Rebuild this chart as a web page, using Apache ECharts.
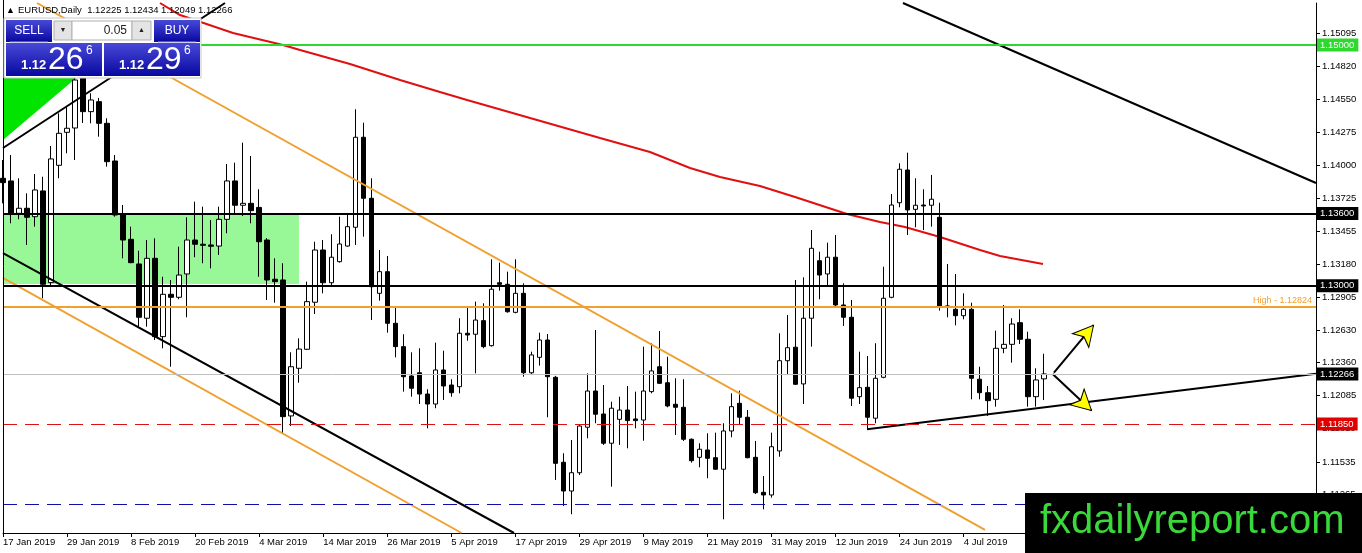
<!DOCTYPE html>
<html><head><meta charset="utf-8">
<script src="https://cdn.jsdelivr.net/npm/echarts@6/dist/echarts.min.js"></script>
<style>html,body{margin:0;padding:0;background:#fff;overflow:hidden}#c{width:1362px;height:553px}</style>
</head><body><div id="c"></div>
<script>
// ---- Data (EURUSD Daily) ----
const openP = [1.13892,1.13870,1.13601,1.13643,1.13573,1.13787,1.13025,1.14000,1.14274,1.14310,
1.14726,1.14446,1.14529,1.14349,1.14036,1.13595,1.13385,1.13180,1.12729,1.13227,
1.12576,1.12928,1.12903,1.13097,1.13379,1.13344,1.13338,1.13329,1.13551,1.13870,
1.13668,1.13684,1.13650,1.13379,1.13053,1.13047,1.11917,1.12313,1.12471,1.12862,
1.13296,1.13024,1.13199,1.13329,1.13485,1.14233,1.13726,1.12936,1.13116,1.12687,
1.12493,1.12249,1.12276,1.12099,1.12016,1.12299,1.12174,1.12160,1.12604,1.12596,
1.12709,1.12501,1.13024,1.13011,1.12778,1.12936,1.12276,1.12404,1.12548,1.12238,
1.11532,1.11293,1.11445,1.11823,1.12124,1.11933,1.11690,1.11889,1.11966,1.11892,
1.11883,1.12119,1.12326,1.12193,1.12014,1.11989,1.11723,1.11573,1.11634,1.11570,
1.11474,1.11792,1.12022,1.11906,1.11573,1.11282,1.11260,1.11626,1.12376,1.12488,
1.12183,1.12729,1.13207,1.13097,1.13236,1.12839,1.12737,1.12077,1.12155,1.11898,
1.12238,1.12903,1.13689,1.13961,1.13634,1.13670,1.13668,1.13568,1.12831,1.12803,
1.12750,1.12803,1.12222,1.12110,1.12055,1.12479,1.12512,1.12692,1.12554,1.12077,
1.12225];
const highP = [1.14044,1.14086,1.13892,1.13767,1.13928,1.13905,1.14161,1.14432,1.14487,1.14892,
1.15141,1.14599,1.14560,1.14391,1.14086,1.13670,1.13490,1.13290,1.13379,1.13393,
1.13074,1.13047,1.13324,1.13568,1.13698,1.13656,1.13546,1.13656,1.14011,1.14022,
1.14188,1.14077,1.13801,1.13395,1.13227,1.13186,1.12446,1.12562,1.13033,1.13365,
1.13379,1.13427,1.13573,1.13601,1.14466,1.14354,1.13892,1.13296,1.13246,1.12831,
1.12596,1.12446,1.12479,1.12139,1.12526,1.12459,1.12222,1.12729,1.12831,1.12867,
1.12853,1.13219,1.13191,1.13116,1.13219,1.13019,1.12451,1.12609,1.12598,1.12250,
1.11607,1.11717,1.11850,1.12271,1.12631,1.12174,1.12035,1.12077,1.12166,1.12119,
1.12493,1.12521,1.12623,1.12409,1.12230,1.12222,1.11730,1.11690,1.11773,1.11778,
1.11856,1.12105,1.12127,1.11966,1.11709,1.11418,1.11778,1.12604,1.12756,1.13047,
1.13069,1.13462,1.13282,1.13357,1.13421,1.13019,1.12881,1.12451,1.12415,1.12521,
1.13157,1.13762,1.14017,1.14105,1.13892,1.13801,1.13920,1.13689,1.13180,1.13097,
1.12936,1.12858,1.12326,1.12166,1.12626,1.12839,1.12729,1.12803,1.12617,1.12313,
1.12434];
const lowP = [1.13684,1.13518,1.13551,1.13338,1.13490,1.12895,1.13005,1.13892,1.14100,1.14044,
1.14352,1.14349,1.14238,1.13989,1.13573,1.13227,1.13186,1.12659,1.12659,1.12548,
1.12479,1.12326,1.12887,1.12737,1.13236,1.13186,1.13144,1.13255,1.13435,1.13601,
1.13579,1.13518,1.13074,1.12881,1.12858,1.11773,1.11833,1.12193,1.12465,1.12764,
1.12936,1.13005,1.13191,1.13324,1.13338,1.13407,1.12714,1.12875,1.12609,1.12404,
1.12119,1.12077,1.12016,1.11814,1.11981,1.12050,1.12077,1.12105,1.12542,1.12271,
1.12479,1.12493,1.12958,1.12775,1.12770,1.12243,1.12266,1.12335,1.11906,1.11385,
1.11169,1.11100,1.11426,1.11731,1.11856,1.11676,1.11329,1.11676,1.11648,1.11814,
1.11711,1.12105,1.12183,1.11989,1.11759,1.11709,1.11529,1.11490,1.11399,1.11468,
1.11058,1.11740,1.11850,1.11565,1.11268,1.11141,1.11238,1.11578,1.12257,1.12174,
1.12016,1.12493,1.12887,1.13005,1.12825,1.12665,1.12000,1.12016,1.11800,1.11856,
1.12230,1.12895,1.13651,1.13421,1.13485,1.13462,1.13490,1.12792,1.12737,1.12670,
1.12720,1.12055,1.12055,1.11917,1.11994,1.12438,1.12360,1.12515,1.11994,1.11994,
1.12049];
const closeP = [1.13856,1.13601,1.13643,1.13568,1.13795,1.13011,1.14053,1.14266,1.14308,1.14709,
1.14446,1.14543,1.14349,1.14030,1.13587,1.13379,1.13191,1.12737,1.13227,1.12576,
1.12928,1.12903,1.13088,1.13379,1.13344,1.13335,1.13327,1.13551,1.13870,1.13668,
1.13684,1.13623,1.13365,1.13047,1.13033,1.11911,1.12326,1.12473,1.12867,1.13296,
1.13024,1.13236,1.13346,1.13490,1.14233,1.13726,1.12991,1.13116,1.12687,1.12493,
1.12243,1.12147,1.12099,1.12016,1.12299,1.12166,1.12110,1.12604,1.12590,1.12714,
1.12493,1.12970,1.13011,1.12783,1.12936,1.12276,1.12424,1.12548,1.12243,1.11523,
1.11293,1.11445,1.11833,1.12124,1.11931,1.11690,1.11981,1.11966,1.11878,1.11878,
1.12124,1.12291,1.12188,1.12000,1.11989,1.11723,1.11545,1.11640,1.11565,1.11474,
1.11792,1.11994,1.11906,1.11570,1.11279,1.11260,1.11661,1.12376,1.12484,1.12180,
1.12729,1.13310,1.13088,1.13236,1.12839,1.12737,1.12064,1.12152,1.11906,1.12230,
1.12895,1.13670,1.13967,1.13629,1.13668,1.13662,1.13718,1.12825,1.12828,1.12750,
1.12803,1.12230,1.12110,1.12044,1.12479,1.12512,1.12681,1.12554,1.12077,1.12216,
1.12266];

// moving average (red) read as [bar index, price]
const maPoints = [[19.61,1.15349],[22.11,1.15249],[28.73,1.15100],[34.97,1.15000],[37.10,1.14958],
[43.34,1.14842],[49.59,1.14709],[54.58,1.14609],[57.96,1.14543],[65.83,1.14393],[74.57,1.14227],
[80.81,1.14111],[85.81,1.13978],[89.56,1.13903],[94.55,1.13828],[98.93,1.13737],[105.42,1.13595],
[109.54,1.13529],[112.66,1.13487],[117.04,1.13404],[122.03,1.13296],[124.53,1.13246],[129.90,1.13180]];

// y-axis tick labels
const yTicks = [1.15095,1.14820,1.14550,1.14275,1.14000,1.13725,1.13455,1.13180,1.12905,1.12630,1.12360,1.12085,1.11810,1.11535,1.11265];

// horizontal levels
const levelGreen = 1.15000, levelR1 = 1.13600, levelR2 = 1.13000, levelHigh = 1.12824,
      levelBid = 1.12266, levelRed = 1.11850, levelBlue = 1.11185;

// trend lines [bar index, price]
const orangeUpper = [[4.25,1.15349],[122.66,1.10969]];
const orangeLower = [[0,1.13064],[57.28,1.10944]];
const blackLower  = [[0,1.13271],[63.83,1.10944]];
const blackRight  = [[112.41,1.15349],[164,1.13853]];
const blackUpLeft = [[0,1.14144],[27.73,1.15349]];
const supportLine = [[107.92,1.11806],[164,1.12267]];
const arrowUp   = [[131.27,1.12277],[136.21,1.12671]];
const arrowDown = [[131.11,1.12266],[135.96,1.11962]];

// zones [bar index, price]
const greenTriangle = [[0,1.15042],[14.74,1.15042],[0,1.14210]];
const greenZone = [[0,1.13600],[36.97,1.13600],[36.97,1.13014],[0,1.13014]];

const MON = ['Jan','Feb','Mar','Apr','May','Jun','Jul','Aug','Sep','Oct','Nov','Dec'];
const dates = [];
for (let d = new Date(Date.UTC(2019,0,17)); dates.length < 165; d.setUTCDate(d.getUTCDate()+1)) {
  const w = d.getUTCDay();
  if (w !== 0 && w !== 6) dates.push(d.getUTCDate()+' '+MON[d.getUTCMonth()]+' '+d.getUTCFullYear());
}
const candles = openP.map((o,i)=>[o, closeP[i], lowP[i], highP[i]]);

const FONT = 'Liberation Sans, Arial, sans-serif';
const chart = echarts.init(document.getElementById('c'), null, {renderer:'canvas'});
const YMIN = 1.10944, YMAX = 1.15349;

function tag(v, bg, fg){
  return {show:true, position:'end', distance:1, formatter: v.toFixed(5), backgroundColor:bg, color:fg||'#fff',
          padding:[2,4,1,3], fontSize:9.5, fontFamily:FONT};
}
function trend(data, color, width){
  return {type:'line', xAxisIndex:1, yAxisIndex:0, data:data, symbol:'none', silent:true, z:4,
          lineStyle:{color:color, width:width||2}, clip:true, animation:false};
}
const blueGrad = new echarts.graphic.LinearGradient(0,0,0,1,[{offset:0,color:'#4848d8'},{offset:1,color:'#0808a0'}]);

// overlay panel elements (one-click trading widget + watermark)
const PZ = 60;
const panel = [
  {type:'rect', shape:{x:4, y:18, width:197, height:60}, style:{fill:'#fff', stroke:'#c8c8c8'}},
  {type:'rect', shape:{x:6, y:20, width:46, height:22}, style:{fill:blueGrad}},
  {type:'rect', shape:{x:154, y:20, width:46, height:22}, style:{fill:blueGrad}},
  {type:'rect', shape:{x:6, y:43, width:96, height:33}, style:{fill:blueGrad}},
  {type:'rect', shape:{x:104, y:43, width:96, height:33}, style:{fill:blueGrad}},
  {type:'line', shape:{x1:10, y1:42, x2:48, y2:42}, style:{stroke:'#9aa0e8', lineWidth:1}},
  {type:'line', shape:{x1:158, y1:42, x2:196, y2:42}, style:{stroke:'#9aa0e8', lineWidth:1}},
  {type:'rect', shape:{x:54, y:21, width:18, height:19}, style:{fill:'#e4e4e4', stroke:'#b0b0b0'}},
  {type:'rect', shape:{x:72, y:21, width:60, height:19}, style:{fill:'#fff', stroke:'#b0b0b0'}},
  {type:'rect', shape:{x:132, y:21, width:19, height:19}, style:{fill:'#e4e4e4', stroke:'#b0b0b0'}},
  {type:'text', style:{x:63, y:30.5, text:'\u25BC', font:'7px '+FONT, fill:'#222', align:'center', verticalAlign:'middle'}},
  {type:'text', style:{x:141.5, y:30.5, text:'\u25B2', font:'7px '+FONT, fill:'#222', align:'center', verticalAlign:'middle'}},
  {type:'text', style:{x:127, y:31, text:'0.05', font:'12px '+FONT, fill:'#222', align:'right', verticalAlign:'middle'}},
  {type:'text', style:{x:29, y:31, text:'SELL', font:'12px '+FONT, fill:'#fff', align:'center', verticalAlign:'middle'}},
  {type:'text', style:{x:177, y:31, text:'BUY', font:'12px '+FONT, fill:'#fff', align:'center', verticalAlign:'middle'}},
  {type:'text', style:{x:21, y:65, text:'1.12', font:'bold 13px '+FONT, fill:'#fff', align:'left', verticalAlign:'middle'}},
  {type:'text', style:{x:48, y:60, text:'26', font:'32px '+FONT, fill:'#fff', align:'left', verticalAlign:'middle'}},
  {type:'text', style:{x:86, y:51, text:'6', font:'12px '+FONT, fill:'#fff', align:'left', verticalAlign:'middle'}},
  {type:'text', style:{x:119, y:65, text:'1.12', font:'bold 13px '+FONT, fill:'#fff', align:'left', verticalAlign:'middle'}},
  {type:'text', style:{x:146, y:60, text:'29', font:'32px '+FONT, fill:'#fff', align:'left', verticalAlign:'middle'}},
  {type:'text', style:{x:184, y:51, text:'6', font:'12px '+FONT, fill:'#fff', align:'left', verticalAlign:'middle'}}
].map((e,i)=>Object.assign(e,{z:PZ+i, silent:true}));
const watermark = [
  {type:'rect', shape:{x:1025, y:493, width:337, height:60}, style:{fill:'#000'}, z:200},
  {type:'text', style:{x:1040, y:522, text:'fxdailyreport.com', font:'40px '+FONT, fill:'#3ad83a', align:'left', verticalAlign:'middle'}, z:201}
].map(e=>Object.assign(e,{silent:true}));

const option = {
  animation:false,
  textStyle:{fontFamily:FONT},
  grid:{left:3, right:46, top:3, bottom:20, containLabel:false},
  xAxis:[
    {type:'category', data:dates, boundaryGap:false,
     axisLine:{onZero:false, lineStyle:{color:'#000', width:1}},
     axisTick:{interval:7, length:4, lineStyle:{color:'#000'}},
     axisLabel:{interval:7, align:'left', margin:4, fontSize:9.5, color:'#000', fontFamily:FONT},
     splitLine:{show:false}},
    {type:'value', min:0, max:164, show:false, axisLine:{onZero:false}}
  ],
  yAxis:[
    {type:'value', position:'right', min:YMIN, max:YMAX, scale:true,
     axisLine:{show:true, onZero:false, lineStyle:{color:'#000', width:1}},
     axisTick:{show:true, inside:false, length:4, customValues:yTicks, lineStyle:{color:'#000'}},
     axisLabel:{customValues:yTicks, margin:6, fontSize:9.5, color:'#000', fontFamily:FONT,
                formatter:(v)=>v.toFixed(5)},
     splitLine:{show:false}}
  ],
  series:[
    {type:'custom', xAxisIndex:1, yAxisIndex:0, z:1, silent:true,
     data:[[0,1.13],[1,1.13]],
     renderItem:(params, api)=>{
       const pts = params.dataIndex === 0 ? greenTriangle : greenZone;
       return {type:'polygon', shape:{points:pts.map(p=>api.coord(p))},
               style:{fill: params.dataIndex === 0 ? '#00e400' : '#98f898'}};
     }},
    {type:'candlestick', name:'EURUSD', xAxisIndex:0, yAxisIndex:0, data:candles, barWidth:5, z:3,
     itemStyle:{color:'#ffffff', color0:'#000000', borderColor:'#000000', borderColor0:'#000000', borderWidth:1},
     markLine:{silent:true, symbol:['none','none'], animation:false, precision:5,
       data:[
         {yAxis:levelGreen, lineStyle:{color:'#2ed82e', width:2, type:'solid'}, label:tag(levelGreen,'#2ed82e')},
         {yAxis:levelR1, lineStyle:{color:'#000', width:2, type:'solid'}, label:tag(levelR1,'#000')},
         {yAxis:levelR2, lineStyle:{color:'#000', width:2, type:'solid'}, label:tag(levelR2,'#000')},
         {yAxis:levelHigh, lineStyle:{color:'#f0a030', width:2, type:'solid'},
          label:{show:true, position:'insideEndTop', formatter:'High - '+levelHigh.toFixed(5), color:'#f0a030',
                 fontSize:9, distance:[4,2], fontFamily:FONT}},
         {yAxis:levelBid, lineStyle:{color:'#c0c0c0', width:1, type:'solid'}, label:tag(levelBid,'#000')},
         {yAxis:levelRed, lineStyle:{color:'#dd1111', width:1, type:[14,8]}, label:tag(levelRed,'#e00000')},
         {yAxis:levelBlue, lineStyle:{color:'#1010a8', width:1, type:[14,8]}, label:{show:false}}
       ]}},
    Object.assign(trend(maPoints,'#e01010',2),{z:3}),
    trend(orangeUpper,'#f0a030',2),
    trend(orangeLower,'#f0a030',2),
    trend(blackLower,'#000',2),
    trend(blackRight,'#000',2),
    trend(blackUpLeft,'#000',2),
    trend(supportLine,'#000',2),
    trend(arrowUp,'#000',2),
    trend(arrowDown,'#000',2),
    {type:'scatter', xAxisIndex:1, yAxisIndex:0, silent:true, z:5, symbol:'arrow', symbolSize:[16,20],
     itemStyle:{color:'#ffff00', borderColor:'#000', borderWidth:1, opacity:1},
     data:[{value:arrowUp[1], symbolRotate:-40},{value:arrowDown[1], symbolRotate:-133}]}
  ],
  graphic:[
    {type:'line', z:40, silent:true, shape:{x1:3.5, y1:0, x2:3.5, y2:533}, style:{stroke:'#000', lineWidth:1}},
    {type:'text', z:50, silent:true, style:{x:6, y:10.5, text:'\u25B2', font:'9px '+FONT, fill:'#000', verticalAlign:'middle'}},
    {type:'text', z:50, silent:true, style:{x:18, y:10.5, text:'EURUSD,Daily  1.12225 1.12434 1.12049 1.12266', font:'9.5px '+FONT, fill:'#000', verticalAlign:'middle'}}
  ].concat(panel, watermark)
};
chart.setOption(option);
</script></body></html>
